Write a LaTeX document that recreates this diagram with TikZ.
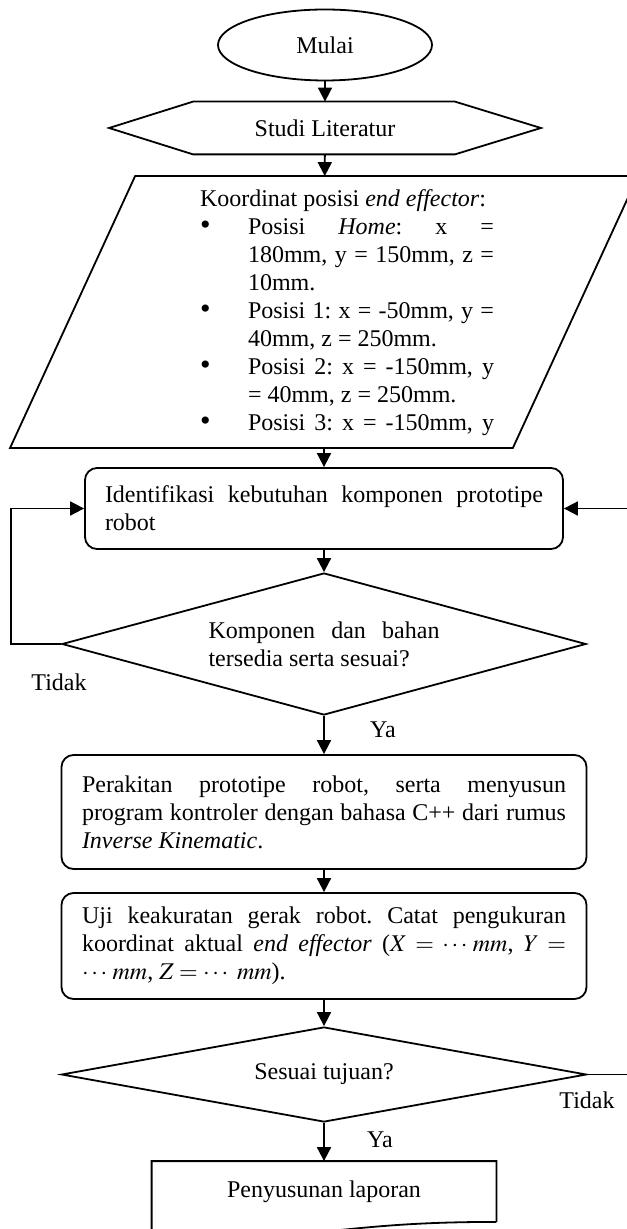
\documentclass[tikz,border=0pt]{standalone}
\usepackage{mathptmx}
\usepackage{fontspec}
\setmainfont{Liberation Serif}
\usetikzlibrary{arrows.meta,shapes.geometric}
\hyphenpenalty=10000
\tolerance=9999
\frenchspacing
\newcommand{\butir}{\noindent\hangindent=24pt\hangafter=1\makebox[24pt][l]{\raisebox{0pt}[0pt][0pt]{\fontsize{15}{14}\selectfont\textbullet}}}

\begin{document}
\begin{tikzpicture}[x=0.5pt,y=-0.5pt,
font=\fontsize{12}{14}\selectfont,
line width=0.9pt,
term/.style={draw,ellipse,inner sep=0pt,minimum width=107pt,minimum height=35.5pt},
prep/.style={inner sep=0pt,minimum width=215pt,minimum height=25.5pt},
io/.style={inner sep=0pt,minimum width=313pt,minimum height=135pt},
proc/.style={draw,rounded corners=6pt,align=justify,inner xsep=10pt,inner ysep=0pt},
dec/.style={draw,diamond,inner sep=0pt,align=justify},
doc/.style={inner sep=0pt,minimum width=171.5pt,minimum height=29.5pt},
arr/.style={-{Triangle[length=7pt,width=7pt]}}]
\useasboundingbox (0,0) rectangle (626,1229);
\node[term] (mulai) at (325,45) {Mulai};
\node[prep] (studi) at (325,128) {Studi Literatur};
\draw (studi.west) -- ([xshift=42pt]studi.north west) -- ([xshift=-43pt]studi.north east) -- (studi.east)
  -- ([xshift=-43pt]studi.south east) -- ([xshift=42pt]studi.south west) -- cycle;
\node[io] (koord) at (324,312) {};
\draw ([xshift=62.5pt]koord.north west) -- (koord.north east) -- ([xshift=-62.5pt]koord.south east) -- (koord.south west) -- cycle;
\node[align=justify,text width=147pt,inner sep=0pt] (koordtxt) at (347,313) {%
\noindent Koordinat posisi \textit{end effector}:\par
\butir Posisi \textit{Home}: x =\linebreak 180mm, y = 150mm, z =\linebreak 10mm.\par
\butir Posisi 1: x = -50mm, y =\linebreak 40mm, z = 250mm.\par
\butir Posisi 2: x = -150mm, y\linebreak = 40mm, z = 250mm.\par
\butir Posisi 3: x = -150mm, y\parfillskip=0pt\par};
\node[proc,text width=219pt,minimum height=40.5pt] (identif) at (324,508.5) {Identifikasi kebutuhan komponen prototipe\linebreak robot};
\node[dec,text width=115.5pt,shape aspect=3.7,minimum width=262pt,minimum height=71pt] (tersedia) at (324,644) {Komponen dan bahan\linebreak tersedia serta sesuai?};
\node[proc,text width=242pt,inner xsep=10.25pt,minimum height=57pt] (rakit) at (324,812) {Perakitan prototipe robot, serta menyusun\linebreak program kontroler dengan bahasa C++ dari rumus\linebreak \textit{Inverse Kinematic}.};
\node[proc,text width=242pt,inner xsep=10.25pt,minimum height=53pt] (uji) at (324,946) {Uji keakuratan gerak robot. Catat pengukuran\linebreak koordinat aktual \textit{end effector} ($X = \cdots\,mm$, $Y =$\linebreak $\cdots\,mm$, $Z = \cdots\ mm$).};
\node[dec,shape aspect=5.5,minimum width=262.5pt,minimum height=47.5pt] (tujuan) at (324,1074.5) {Sesuai tujuan?};
\node[doc] (laporan) at (324,1191.5) {Penyusunan laporan};
\draw (laporan.south east) -- (laporan.north east) -- (laporan.north west) -- ([yshift=-4.85pt]laporan.south west)
  .. controls ([yshift=-11.25pt]laporan.south) and (laporan.south) .. (laporan.south east);
\node (tidakkiri) at (59,682) {Tidak};
\node (yaatas) at (383,730) {Ya};
\node (tidakkanan) at (587,1100) {Tidak};
\node (yabawah) at (380,1140) {Ya};
\draw[arr] (mulai) -- (studi);
\draw[arr] (studi) -- (koord);
\draw[arr] (koord) -- (identif);
\draw[arr] (identif) -- (tersedia);
\draw[arr] (tersedia) -- (rakit);
\draw[arr] (rakit) -- (uji);
\draw[arr] (uji) -- (tujuan);
\draw[arr] (tujuan) -- (laporan);
\draw[arr] (tersedia.west) -- ++(-50,0) |- (identif.west);
\draw[arr] (tujuan.east) -- ++(56,0) |- (identif.east);
\end{tikzpicture}
\end{document}
